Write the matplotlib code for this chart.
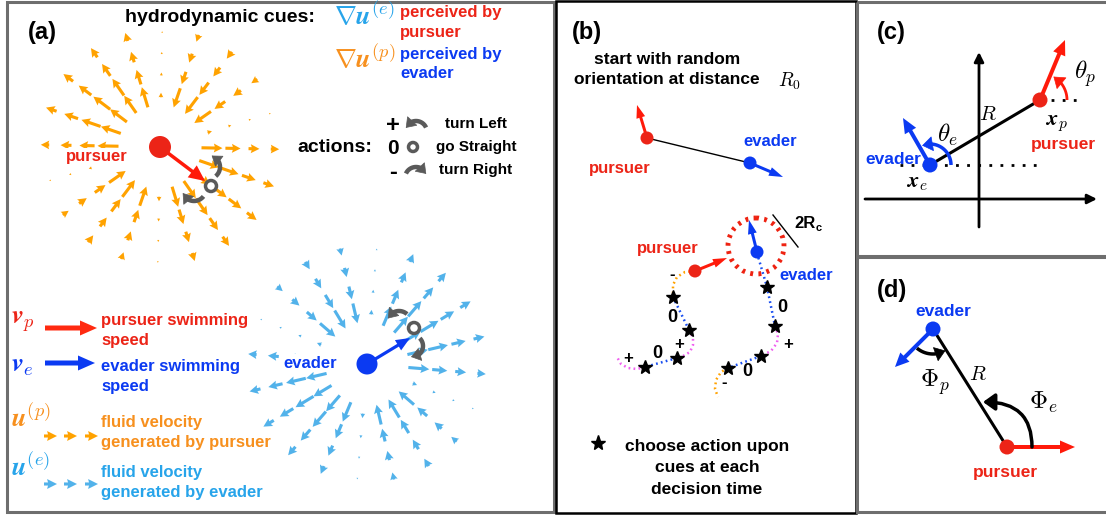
import numpy as np
import matplotlib.pyplot as plt
from matplotlib.patches import Circle, FancyArrowPatch, Rectangle

plt.rcParams['font.family'] = ['Liberation Sans', 'DejaVu Sans']
plt.rcParams['mathtext.fontset'] = 'cm'

RED = '#ec2417'
BLUE = '#0b3af2'
ORANGE = '#ffa200'
ORANGE_TXT = '#f7901e'
SKY = '#52b2ea'
SKY_TXT = '#27a4ea'
GRAY = '#5a5a5a'
PINK = '#f060f0'

# panel (a): swimmers, heading tips, action rings
pursuer_a = (160, 147)
pursuer_tip_a = (205, 181)
ring_p = (211, 186)
evader_a = (367, 364)
evader_tip_a = (410, 338)
ring_e = (414, 328)
grid_radii = [52, 73, 94, 115]
n_rays = 20

action_signs = ['+', '0', '-']
action_names = ['turn Left', 'go Straight', 'turn Right']
action_rows = [124, 147, 170]

legend_syms = [r'$\boldsymbol{v}_p$', r'$\boldsymbol{v}_e$',
               r'$\boldsymbol{u}^{(p)}$', r'$\boldsymbol{u}^{(e)}$']
legend_lines = [('pursuer swimming', 'speed'), ('evader swimming', 'speed'),
                ('fluid velocity', 'generated by pursuer'),
                ('fluid velocity', 'generated by evader')]
legend_sym_y = [322, 366, 418, 467]
legend_txt_y = [321, 367, 423, 472]
legend_arrow_y = [328, 363, 436, 484]

# panel (b): start configuration and two sample trajectories
start_p, start_p_tip = (647, 138), (637, 105)
start_e, start_e_tip = (750, 163), (783, 177)
end_p, end_p_tip = (695, 271), (727, 258)
end_e, end_e_tip = (757, 252), (749, 220)
capture_c, capture_r = (756, 246), 28

traj_p = [
    ('orange', [(695, 271), (685, 272), (677, 277), (673, 285), (673, 297)]),
    ('blue', [(673, 297), (689, 330)]),
    ('pink', [(689, 330), (693, 337), (693, 345), (690, 352), (683, 356), (677, 358)]),
    ('blue', [(677, 358), (645, 367)]),
    ('pink', [(645, 367), (637, 369), (628, 368), (621, 364), (617, 357)]),
]
traj_e = [
    ('blue', [(757, 253), (767, 287), (775, 326)]),
    ('pink', [(775, 326), (778, 334), (777, 343), (771, 351), (761, 356)]),
    ('blue', [(761, 356), (728, 368)]),
    ('orange', [(728, 368), (721, 372), (716, 380), (715, 389), (718, 397)]),
]
stars_x = [673, 689, 677, 645, 767, 775, 761, 728]
stars_y = [297, 330, 358, 367, 287, 326, 356, 368]
step_labels = ['-', '0', '+', '0', '+', '0', '+', '0', '-']
step_x = [672, 672, 679, 657, 628, 782, 788, 747, 724]
step_y = [274, 318, 345, 353, 358, 307, 344, 371, 383]

# panels (c) and (d)
pursuer_c, pursuer_c_tip = (1040, 100), (1065, 40)
evader_c, evader_c_tip = (930, 165), (903, 118)
evader_d, evader_d_tip = (933, 329), (895, 367)
pursuer_d, pursuer_d_tip = (1007, 447), (1075, 447)

W, H = 1106, 517
fig = plt.figure(figsize=(W / 100, H / 100), dpi=100)
ax = fig.add_axes([0, 0, 1, 1])
ax.set_xlim(0, W)
ax.set_ylim(H, 0)
ax.axis('off')


def arrow(p0, p1, color, w=4, hw=13, hl=14, z=6):
    ax.arrow(p0[0], p0[1], p1[0] - p0[0], p1[1] - p0[1], width=w, head_width=hw,
             head_length=hl, length_includes_head=True, fc=color, ec='none', zorder=z)


def dot(p, r, color, z=7):
    ax.add_patch(Circle(p, r, fc=color, ec='none', zorder=z))


def arc_arrow(c, r, a0, a1, color, lw=2.5, hl=8, ms=9):
    # circular arc from a0 to a1 (degrees, counter-clockwise on screen), head at a1
    sgn = np.sign(a1 - a0)
    d = np.rad2deg(hl / r)
    t = np.deg2rad(np.linspace(a0, a1 - sgn * d * 0.6, 30))
    ax.plot(c[0] + r * np.cos(t), c[1] - r * np.sin(t), color=color, lw=lw,
            solid_capstyle='butt', zorder=8)
    tb, te = np.deg2rad(a1 - sgn * d), np.deg2rad(a1)
    ax.add_patch(FancyArrowPatch((c[0] + r * np.cos(tb), c[1] - r * np.sin(tb)),
                                 (c[0] + r * np.cos(te), c[1] - r * np.sin(te)),
                                 arrowstyle='-|>,head_length=0.7,head_width=0.5',
                                 mutation_scale=ms, lw=0.5, color=color,
                                 shrinkA=0, shrinkB=0, zorder=8))


def ring(p, r=5.5):
    ax.add_patch(Circle(p, r, fc='white', ec=GRAY, lw=2.5, zorder=8))


def txt(x, y, s, color='black', size=12, ha='center', weight='bold', **kw):
    ax.text(x, y, s, color=color, fontsize=size, ha=ha, va='center',
            fontweight=weight, **kw)


def flow(center, tip, color):
    # stresslet (pusher) field sampled on rays around the swimmer
    cx, cy = center
    head = np.arctan2(-(tip[1] - cy), tip[0] - cx)
    ang = head + np.arange(n_rays) * 2 * np.pi / n_rays
    A, R = np.meshgrid(ang, np.array(grid_radii, float))
    ex, ey = np.cos(A), -np.sin(A)
    s = 3 * np.cos(A - head) ** 2 - 1
    L = np.clip(24 * np.sign(s) * np.abs(s) ** 0.5 * (52 / R) ** 1.3, -21, 21)
    X = cx + R * ex - L * ex / 2
    Y = cy + R * ey - L * ey / 2
    ax.quiver(X, Y, L * ex, L * ey, angles='xy', scale_units='xy', scale=1,
              color=color, width=0.0028, headwidth=2.9, headlength=2.8,
              headaxislength=2.5, minlength=0.5, zorder=2)


# frames
ax.add_patch(Rectangle((6.5, 2), 547, 509.5, fill=False, ec='#6e6e6e', lw=2.2, zorder=1))
ax.add_patch(Rectangle((556, 1), 300, 512, fill=False, ec='black', lw=1.8, zorder=1))
ax.add_patch(Rectangle((857, 2), 260, 254, fill=False, ec='#6e6e6e', lw=2.2, zorder=1))
ax.add_patch(Rectangle((857, 257), 260, 255, fill=False, ec='#6e6e6e', lw=2.2, zorder=1))

# ---------------- (a)
txt(42, 32, '(a)', size=17)
txt(125, 17, 'hydrodynamic cues:', size=14, ha='left')
txt(334, 15, r'$\nabla\boldsymbol{u}^{(e)}$', color=SKY_TXT, size=19, ha='left')
txt(400, 12, 'perceived by', color=RED, size=12, ha='left')
txt(400, 32, 'pursuer', color=RED, size=12, ha='left')
txt(334, 58, r'$\nabla\boldsymbol{u}^{(p)}$', color=ORANGE_TXT, size=19, ha='left')
txt(400, 55, 'perceived by', color=BLUE, size=12, ha='left')
txt(400, 74, 'evader', color=BLUE, size=12, ha='left')

flow(pursuer_a, pursuer_tip_a, ORANGE)
flow(evader_a, evader_tip_a, SKY)

txt(97, 157, 'pursuer', color=RED, size=12,
    bbox=dict(fc='white', ec='none', pad=1), zorder=4)
txt(310, 363, 'evader', color=BLUE, size=12,
    bbox=dict(fc='white', ec='none', pad=1), zorder=4)

dot(pursuer_a, 11, RED)
arrow(pursuer_a, pursuer_tip_a, '#ff1a0a', w=3.5, hw=15, hl=16)
ring(ring_p)
arc_arrow((ring_p[0] - 3, ring_p[1] - 19), 12, -50, 72, GRAY, lw=3.2)
arc_arrow((ring_p[0] - 17, ring_p[1] + 3), 12, -38, -160, GRAY, lw=3.2)

dot(evader_a, 10.5, BLUE)
arrow(evader_a, evader_tip_a, BLUE, w=3.2, hw=12, hl=14)
ring(ring_e)
arc_arrow((ring_e[0] - 15, ring_e[1] - 5), 12, 48, 158, GRAY, lw=3.2)
arc_arrow((ring_e[0] - 2, ring_e[1] + 18), 11, 45, -95, GRAY, lw=3.2)

# action legend
txt(297, 147, 'actions:', size=14, ha='left')
for sign, name, y in zip(action_signs, action_names, action_rows):
    txt(393, y + 2, sign, size=17 if sign != '0' else 15)
    txt(476, y, name, size=11)
arc_arrow((416, 132), 11, 24, 158, GRAY, lw=3.2)
ring((413, 147), 4.5)
arc_arrow((416, 178), 11, 156, 22, GRAY, lw=3.2)

# symbol legend
legend_cols = [RED, BLUE, ORANGE_TXT, SKY_TXT]
for k in range(4):
    txt(11, legend_sym_y[k], legend_syms[k], color=legend_cols[k], size=19, ha='left')
    txt(101, legend_txt_y[k], legend_lines[k][0], color=legend_cols[k], size=12, ha='left')
    txt(101, legend_txt_y[k] + 20, legend_lines[k][1], color=legend_cols[k], size=12, ha='left')
arrow((45, legend_arrow_y[0]), (97, legend_arrow_y[0]), '#ff2a10', w=5, hw=15, hl=17)
arrow((45, legend_arrow_y[1]), (95, legend_arrow_y[1]), BLUE, w=5, hw=15, hl=17)
for k, c in ((2, ORANGE), (3, SKY)):
    xs = np.array([44, 64, 85])
    ax.quiver(xs, np.full(3, legend_arrow_y[k]), np.full(3, 13), np.zeros(3),
              angles='xy', scale_units='xy', scale=1, color=c, width=0.0028,
              headwidth=3.2, headlength=3.2, headaxislength=2.9, zorder=3)

# ---------------- (b)
txt(587, 32, '(b)', size=17)
txt(667, 60, 'start with random', size=12.5)
txt(667, 80, 'orientation at distance', size=12.5)
txt(790, 81, r'$R_0$', size=14, weight='normal')

ax.plot([start_p[0], start_e[0]], [start_p[1], start_e[1]], color='black', lw=1, zorder=3)
dot(start_p, 6.5, RED)
arrow(start_p, start_p_tip, '#ff1a0a', w=3, hw=9, hl=13)
dot(start_e, 6.5, BLUE)
arrow(start_e, start_e_tip, BLUE, w=3, hw=9, hl=14)
txt(770, 142, 'evader', color=BLUE, size=12)
txt(620, 168, 'pursuer', color=RED, size=12)

ax.add_patch(Circle(capture_c, capture_r, fill=False, ec='#ee2211', lw=3.5,
                    ls=(0, (0.6, 1.1)), zorder=4))
ax.plot([773, 798], [215, 247], color='black', lw=1, zorder=3)
txt(794, 223, '2R', size=12, ha='left')
txt(816, 228, 'c', size=8, ha='left')

traj_cols = {'orange': ORANGE, 'blue': '#1a4ff0', 'pink': PINK}
for col, pts in traj_p + traj_e:
    xs, ys = zip(*pts)
    ax.plot(xs, ys, color=traj_cols[col], lw=1.8, ls=(0, (0.7, 1.3)), zorder=3)
ax.plot(stars_x, stars_y, ls='none', marker='*', ms=10, color='black', zorder=6)
for s, x, y in zip(step_labels, step_x, step_y):
    txt(x, y, s, size=13 if s == '0' else 12)

dot(end_p, 6.5, RED)
arrow(end_p, end_p_tip, '#ff1a0a', w=3, hw=9, hl=14)
dot(end_e, 6.5, BLUE)
arrow(end_e, end_e_tip, BLUE, w=3, hw=9, hl=14)
txt(668, 249, 'pursuer', color=RED, size=12)
txt(806, 275, 'evader', color=BLUE, size=12)

ax.plot([598], [443], ls='none', marker='*', ms=11, color='black')
txt(707, 447, 'choose action upon', size=12.5)
txt(707, 468, 'cues at each', size=12.5)
txt(707, 489, 'decision time', size=12.5)

# ---------------- (c)
txt(891, 32, '(c)', size=17)
ax.annotate('', xy=(1097, 199), xytext=(865, 199),
            arrowprops=dict(arrowstyle='-|>', lw=2, color='black', mutation_scale=14,
                            shrinkA=0, shrinkB=0))
ax.annotate('', xy=(979, 52), xytext=(979, 227),
            arrowprops=dict(arrowstyle='-|>', lw=2, color='black', mutation_scale=14,
                            shrinkA=0, shrinkB=0))
ax.plot([pursuer_c[0], 1084], [100, 100], color='black', lw=2, ls=(0, (1, 3)))
ax.plot([900, 1042], [165, 165], color='black', lw=2, ls=(0, (1, 3)))
ax.plot([evader_c[0], pursuer_c[0]], [evader_c[1], pursuer_c[1]], color='black', lw=2.2, zorder=3)
dot(pursuer_c, 7.5, RED)
arrow(pursuer_c, pursuer_c_tip, '#ff1a0a', w=4, hw=13, hl=15)
arc_arrow(pursuer_c, 27, 0, 60, '#ff1a0a', lw=2, hl=9, ms=10)
dot(evader_c, 7.5, BLUE)
arrow(evader_c, evader_c_tip, BLUE, w=4, hw=13, hl=15)
arc_arrow(evader_c, 21, 0, 112, BLUE, lw=2.5, hl=9, ms=10)
txt(1085, 74, r'$\theta_p$', size=18, weight='normal')
txt(1056, 124, r'$\boldsymbol{x}_p$', size=16, weight='normal')
txt(1063, 145, 'pursuer', color=RED, size=12.5)
txt(948, 135, r'$\theta_e$', size=18, weight='normal')
txt(988, 115, r'$R$', size=15, weight='normal')
txt(893, 160, 'evader', color=BLUE, size=12.5)
txt(917, 182, r'$\boldsymbol{x}_e$', size=16, weight='normal')

# ---------------- (d)
txt(892, 290, '(d)', size=17)
ax.plot([evader_d[0], pursuer_d[0]], [evader_d[1], pursuer_d[1]], color='black', lw=2.2, zorder=3)
dot(evader_d, 7.5, BLUE)
arrow(evader_d, evader_d_tip, BLUE, w=4, hw=13, hl=14)
dot(pursuer_d, 7.5, RED)
arrow(pursuer_d, pursuer_d_tip, '#ff1a0a', w=4, hw=13, hl=15)
arc_arrow(evader_d, 25, -130, -60, 'black', lw=2.5, hl=9, ms=10)
ax.add_patch(FancyArrowPatch((1032, 447), (983, 402), connectionstyle='angle3,angleA=90,angleB=0',
                             arrowstyle='-|>,head_length=0.7,head_width=0.5', mutation_scale=10,
                             lw=2.5, color='black', shrinkA=0, shrinkB=0, zorder=8))
txt(943, 312, 'evader', color=BLUE, size=12.5)
txt(1005, 472, 'pursuer', color=RED, size=12.5)
txt(935, 382, r'$\Phi_p$', size=18, weight='normal')
txt(978, 375, r'$R$', size=15, weight='normal')
txt(1043, 402, r'$\Phi_e$', size=18, weight='normal')

fig.savefig('out.png', dpi=100)
